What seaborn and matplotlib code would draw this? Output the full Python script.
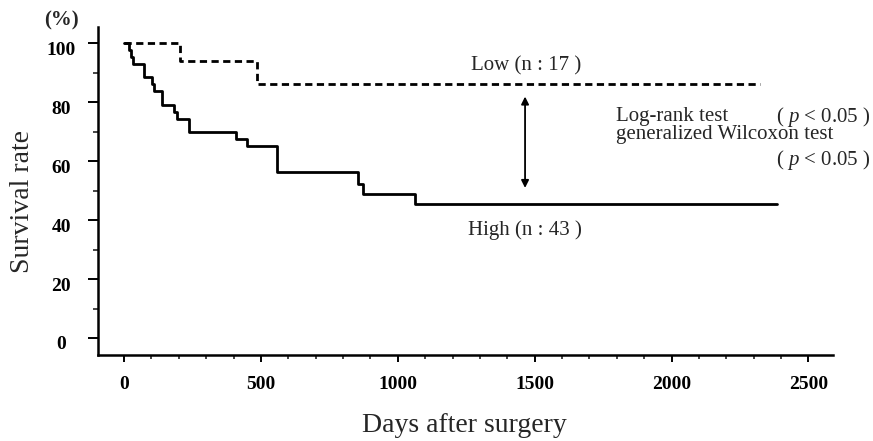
import numpy as np
import pandas as pd
import seaborn as sns
import matplotlib.pyplot as plt
from matplotlib.ticker import MultipleLocator
from matplotlib.transforms import ScaledTranslation

# Curvas de supervivencia
low_days = [0, 205, 486, 2324]
low_surv = [100, 94.1, 86.3, 86.3]

high_days = [0, 18, 26, 34, 74, 101, 110, 138, 183, 195, 239, 409, 448,
             558, 856, 874, 1063, 2385]
high_surv = [100, 97.7, 95.3, 93.0, 88.4, 86.0, 83.7, 79.1, 76.7, 74.4,
             69.8, 67.4, 65.1, 56.4, 52.4, 48.8, 45.4, 45.4]

x_ticks = [0, 500, 1000, 1500, 2000, 2500]
y_ticks = [0, 20, 40, 60, 80, 100]

sns.set_style('ticks')
plt.rcParams['font.family'] = ['Liberation Serif', 'DejaVu Serif']
plt.rcParams['mathtext.fontset'] = 'custom'
plt.rcParams['mathtext.rm'] = 'Liberation Serif'
plt.rcParams['mathtext.it'] = 'Liberation Serif:italic'

low_df = pd.DataFrame({'dias': low_days, 'supervivencia': low_surv})
high_df = pd.DataFrame({'dias': high_days, 'supervivencia': high_surv})

fig = plt.figure(figsize=(8.73, 4.41), dpi=100)
ax = fig.add_axes([0.1123, 0.195, 0.8422, 0.7438])

sns.lineplot(data=low_df, x='dias', y='supervivencia', ax=ax, color='black',
             lw=2, drawstyle='steps-post', linestyle=(0, (2.6, 1.6)),
             estimator=None)
sns.lineplot(data=high_df, x='dias', y='supervivencia', ax=ax, color='black',
             lw=2, drawstyle='steps-post', estimator=None)

ax.set_xlim(-95, 2591)
ax.set_ylim(-5.77, 105.5)
sns.despine(ax=ax)
for s in ['left', 'bottom']:
    ax.spines[s].set_linewidth(1.8)
    ax.spines[s].set_color('black')

ax.set_xticks(x_ticks)
ax.set_yticks(y_ticks)
ax.xaxis.set_minor_locator(MultipleLocator(100))
ax.yaxis.set_minor_locator(MultipleLocator(10))
ax.tick_params(axis='x', which='major', length=4.8, width=1.4, pad=10,
               labelsize=14, colors='black')
ax.tick_params(axis='x', which='minor', length=2.9, width=1.2)
ax.tick_params(axis='y', which='major', length=7, width=1.4, pad=19.4,
               labelsize=14, colors='black')
ax.tick_params(axis='y', which='minor', length=3.6, width=1.2)
for lab in ax.get_xticklabels() + ax.get_yticklabels():
    lab.set_fontweight('bold')
offset = ScaledTranslation(0, -0.05, fig.dpi_scale_trans)
for lab in ax.get_yticklabels():
    lab.set_ha('center')
    lab.set_transform(lab.get_transform() + offset)

ax.set_xlabel('Days after surgery', fontsize=20, va='center')
ax.set_ylabel('Survival rate', fontsize=20, va='center')
ax.xaxis.set_label_coords(0.498, -0.2134)
ax.yaxis.set_label_coords(-0.103, 0.468)

fig.text(61 / 873, 1 - 20 / 441, '(%)', fontsize=15, fontweight='bold',
         ha='center', va='center')

# Etiquetas de los grupos y prueba estadistica
ax.text(1469, 92.3, 'Low (n : 17 )', fontsize=15, ha='center', va='center')
ax.text(1465, 36.6, 'High (n : 43 )', fontsize=15, ha='center', va='center')
ax.text(1798, 75.1, 'Log-rank test', fontsize=15, ha='left', va='center')
ax.text(2726, 75.1, '( $p$ < 0.05 )', fontsize=15, ha='right', va='center')
ax.text(1798, 68.9, 'generalized Wilcoxon test', fontsize=15, ha='left',
        va='center')
ax.text(2726, 60.4, '( $p$ < 0.05 )', fontsize=15, ha='right', va='center')

ax.annotate('', xy=(1465, 50.9), xytext=(1465, 81.9),
            arrowprops=dict(arrowstyle='<|-|>', color='black', lw=1.3,
                            mutation_scale=11, shrinkA=0, shrinkB=0))

plt.savefig('out.png', dpi=100)
